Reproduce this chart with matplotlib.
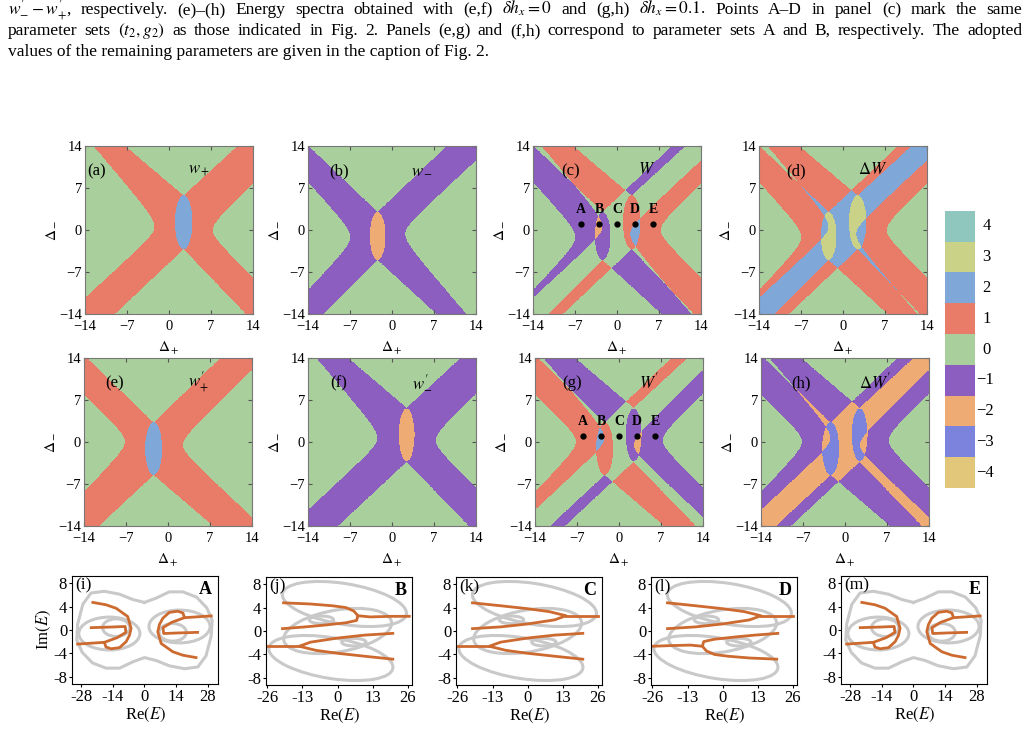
import numpy as np
import matplotlib.pyplot as plt
from matplotlib.colors import ListedColormap, BoundaryNorm
from matplotlib.patches import Ellipse

plt.rcParams['font.family'] = ['Liberation Serif', 'DejaVu Serif']
plt.rcParams['mathtext.fontset'] = 'stix'

# ---------------- data ----------------
# winding-number legend (value -> colour)
levels = [-4, -3, -2, -1, 0, 1, 2, 3, 4]
level_colors = ['#e2c77b', '#7b83dc', '#eeab73', '#8b5ec0', '#a9cf9c',
                '#e97c69', '#7fa8d8', '#c9d286', '#8fc6bd']

# four basic invariants: w+, w-, w'+, w'-  (shapes read off panels a, b, e, f)
# each zero region is a wedge: apex/vertex and the points where its edges leave the frame
band_value = [1, -1, 1, -1]
ellipse_value = [2, -2, 2, -2]
# left zero region (rounded vertex)
left_vertex = [(-2.45, 0.5), (-6.96, -1.2), (-7.2, 0.1), (-2.45, 0.6)]
left_upper_exit = [(-12.6, 14), (-14, 8.0), (-14, 7.9), (-12.6, 14)]
left_lower_exit = [(-14, -11.3), (-14, -10.0), (-14, -8.3), (-14, -11.3)]
# right zero region (rounded vertex)
right_vertex = [(7.3, 0.0), (2.2, -0.6), (2.5, -0.5), (7.3, 0.3)]
right_upper_exit = [(14, 7.7), (14, 11.6), (14, 12.0), (14, 8.0)]
right_lower_exit = [(14, -7.9), (12.4, -14), (14, -12.5), (14, -7.6)]
# top and bottom zero wedges (sharp apex)
top_apex = [(2.45, 5.75), (-2.4, 3.0), (-2.4, 3.25), (2.45, 5.7)]
top_exit_x = [(-7.3, 11.4), (-13.9, 9.1), (-13.5, 8.7), (-7.3, 11.4)]
bottom_apex = [(2.45, -3.2), (-2.4, -5.0), (-2.4, -5.5), (2.45, -3.3)]
bottom_exit_x = [(-9.0, 12.8), (-11.4, 7.4), (-11.5, 7.5), (-9.0, 12.8)]
# central ellipse
ellipse_center = [(2.45, 1.3), (-2.4, -1.0), (-2.4, -1.1), (2.45, 1.2)]
ellipse_semi = [(1.45, 4.5), (1.3, 4.0), (1.4, 4.4), (1.3, 4.4)]
rounding = 1.5

panel_letters = ['(a)', '(b)', '(c)', '(d)', '(e)', '(f)', '(g)', '(h)']
panel_titles = [r'$w_+$', r'$w_-$', r'$W$', r'$\mathit{\Delta} W$',
                r'$w^{\prime}_{+}$', r'$w^{\prime}_{-}$', r'$W^{\prime}$',
                r'$\mathit{\Delta} W^{\prime}$']
letter_x = [-12, -8.9, -7.8, -7.9, -8.9, -8.9, -7.8, -7.3]
phase_ticks = [-14, -7, 0, 7, 14]

# parameter points A-E marked in (c) and (g)
point_names = ['A', 'B', 'C', 'D', 'E']
point_dplus = [-6, -3, 0, 3, 6]
point_dminus = [1, 1, 1, 1, 1]

# ---------------- spectra (Re E, Im E) traced from panels i-m ----------------
# parameter sets A and E give the same spectrum
AE_gray_outer = [(0, 4.7), (-5.2, 5.2), (-11, 6.1), (-17.7, 6.6), (-23.6, 6.3),
                 (-27.2, 4.4), (-29.5, 1.0), (-29.9, -1.7), (-27.5, -3.8),
                 (-23, -5.6), (-17, -6.5), (-11, -6.5), (-5, -5.4), (0, -4.7),
                 (5.2, -5.2), (11, -6.1), (17.7, -6.6), (23.6, -6.3),
                 (27.2, -4.4), (29.5, -1.0), (29.9, 1.7), (27.5, 3.8),
                 (23, 5.6), (17, 6.5), (11, 6.5), (5, 5.4), (0, 4.7)]
AE_gray_loop_x = [-15.5, -12.5, 15.5, 12.5]
AE_gray_loop_y = [-0.6, 0.4, 0.6, -0.4]
AE_gray_loop_w = [27, 12, 27, 12]
AE_gray_loop_h = [5.6, 3.0, 5.6, 3.0]
AE_orange = [
    [(-29.5, -2.4), (-17.7, -2.1), (-17, -2.9), (-14.7, -3.2), (-11, -3.0),
     (-8.1, -2.0), (-6.6, -0.9), (-5.9, 0.3), (-7.4, 2.3), (-12.5, 3.7),
     (-17, 4.3), (-22.8, 4.7)],
    [(-23.5, 0.4), (-15, 0.5), (-8.5, 0.6), (-8.2, -0.4), (-12, -1.3),
     (-17.7, -2.1)],
    [(29.5, 2.4), (17.7, 2.1), (17, 2.9), (14.7, 3.2), (11, 3.0),
     (8.1, 2.0), (6.6, 0.9), (5.9, -0.3), (7.4, -2.3), (12.5, -3.7),
     (17, -4.3), (22.8, -4.7)],
    [(23.5, -0.4), (15, -0.5), (8.5, -0.6), (8.2, 0.4), (12, 1.3),
     (17.7, 2.1)],
]

# parameter sets B, C, D share the three-loop gray spectrum
BCD_gray_loop_x = [2.5, 0.0, -2.5, -6.0, 6.0]
BCD_gray_loop_y = [4.6, 0.0, -4.6, 1.9, -1.9]
BCD_gray_loop_w = [46, 40, 46, 9, 9]
BCD_gray_loop_h = [7.0, 7.2, 7.0, 1.3, 1.3]
BCD_gray_loop_angle = [-4, 4, -4, 0, 0]
C_orange = [
    [(-20.4, 4.8), (-10, 4.3), (0, 3.8), (8, 3.3), (14.2, 2.6), (10, 1.9),
     (0, 1.2), (-10, 0.7), (-20.4, 0.4)],
    [(14.2, 2.6), (20, 2.6), (26, 2.6)],
    [(20.4, -4.8), (10, -4.3), (0, -3.8), (-8, -3.3), (-14.2, -2.6), (-10, -1.9),
     (0, -1.2), (10, -0.7), (20.4, -0.4)],
    [(-14.2, -2.6), (-20, -2.6), (-26, -2.6)],
]
B_orange = [
    [(-20, 4.8), (-10, 4.6), (-2, 4.3), (3, 4.0), (6, 3.4), (7.5, 2.6), (7, 1.8),
     (3, 1.4), (-5, 1.0), (-12, 0.7), (-20.4, 0.4)],
    [(7.5, 2.6), (12, 2.4), (20, 2.5), (26.5, 2.5)],
    [(20.4, -4.8), (10, -4.3), (0, -3.8), (-8, -3.3), (-14.2, -2.6), (-10, -1.9),
     (0, -1.2), (10, -0.7), (20.4, -0.4)],
    [(-14.2, -2.6), (-20, -2.6), (-26, -2.6)],
]
D_orange = [
    [(-20.4, 4.8), (-10, 4.3), (0, 3.8), (8, 3.3), (14.2, 2.6), (10, 1.9),
     (0, 1.2), (-10, 0.7), (-20.4, 0.4)],
    [(14.2, 2.6), (20, 2.6), (26, 2.6)],
    [(20, -4.8), (10, -4.6), (2, -4.3), (-3, -4.0), (-6, -3.4), (-7.5, -2.6), (-7, -1.8),
     (-3, -1.4), (5, -1.0), (12, -0.7), (20.4, -0.4)],
    [(-7.5, -2.6), (-12, -2.4), (-20, -2.5), (-26, -2.6)],
]

spec_letters = ['(i)', '(j)', '(k)', '(l)', '(m)']
spec_points = ['A', 'B', 'C', 'D', 'E']
spec_xticks = [[-28, -14, 0, 14, 28], [-26, -13, 0, 13, 26], [-26, -13, 0, 13, 26],
               [-26, -13, 0, 13, 26], [-28, -14, 0, 14, 28]]
spec_yticks = [8, 4, 0, -4, -8]

# ---------------- figure ----------------
W_PX, H_PX = 1029, 732
fig = plt.figure(figsize=(W_PX / 100, H_PX / 100), dpi=100)


def px_axes(x, y, w, h):
    return fig.add_axes([x / W_PX, 1 - (y + h) / H_PX, w / W_PX, h / H_PX])


# caption text, lines 1-2 justified
renderer = fig.canvas.get_renderer()
line1 = [r'$w^{\prime}_{-}-w^{\prime}_{+}$,', 'respectively.', '(e)–(h)', 'Energy',
         'spectra', 'obtained', 'with', '(e,f)', r'$\delta h_x=0$', 'and', '(g,h)',
         r'$\delta h_x=0.1$.', 'Points', 'A–D', 'in', 'panel', '(c)', 'mark', 'the', 'same']
line2 = ['parameter', 'sets', r'$(t_2,g_2)$', 'as', 'those', 'indicated', 'in', 'Fig.', '2.',
         'Panels', '(e,g)', 'and', '(f,h)', 'correspond', 'to', 'parameter', 'sets', 'A',
         'and', 'B,', 'respectively.', 'The', 'adopted']


def justify(words, y, x0=8, x1=1022):
    texts = [fig.text(0, 1 - y / H_PX, w, fontsize=12.5, va='baseline') for w in words]
    widths = [t.get_window_extent(renderer).width for t in texts]
    gap = (x1 - x0 - sum(widths)) / (len(words) - 1)
    x = x0
    for t, wd in zip(texts, widths):
        t.set_x(x / W_PX)
        x += wd + gap


justify(line1, 14)
justify(line2, 35)
fig.text(8 / W_PX, 1 - 56 / H_PX,
         'values of the remaining parameters are given in the caption of Fig. 2.',
         fontsize=12.5, va='baseline')

# phase diagrams
cmap = ListedColormap(level_colors)
norm = BoundaryNorm(np.arange(-4.5, 5.5, 1), cmap.N)
grid = np.linspace(-14, 14, 801)
DP, DM = np.meshgrid(grid, grid)


def side_region(vertex, upper_exit, lower_exit, sign):
    # zero region left (sign=-1) or right (sign=+1) of a rounded wedge boundary
    xv, yv = vertex
    r = rounding
    dy = DM - yv
    dist = np.zeros_like(DP)
    for exit_pt, mask in ((upper_exit, dy >= 0), (lower_exit, dy < 0)):
        xc, yc = exit_pt
        span = abs(xc - xv) + r
        slope = abs(yc - yv) / np.sqrt(span ** 2 - r ** 2)
        dist = np.where(mask, np.sqrt(r ** 2 + (dy / slope) ** 2), dist)
    if sign < 0:
        return DP < xv + r - dist
    return DP > xv - r + dist


def apex_region(apex, exits, edge, sign):
    xa, ya = apex
    sl = (edge - ya) / (xa - exits[0])
    sr = (edge - ya) / (exits[1] - xa)
    bound = np.where(DP < xa, ya + sl * (xa - DP), ya + sr * (DP - xa))
    if sign > 0:
        return DM > bound
    return DM < bound


def invariant(k):
    zero = (side_region(left_vertex[k], left_upper_exit[k], left_lower_exit[k], -1)
            | side_region(right_vertex[k], right_upper_exit[k], right_lower_exit[k], 1)
            | apex_region(top_apex[k], top_exit_x[k], 14, 1)
            | apex_region(bottom_apex[k], bottom_exit_x[k], -14, -1))
    ex, ey = ellipse_center[k]
    ea, eb = ellipse_semi[k]
    ell = ((DP - ex) / ea) ** 2 + ((DM - ey) / eb) ** 2 < 1
    w = np.where(zero, 0, band_value[k])
    return np.where(ell, ellipse_value[k], w)


wp, wm, wpp, wmp = [invariant(k) for k in range(4)]
fields = [wp, wm, wp + wm, wp - wm, wpp, wmp, wpp + wmp, wmp - wpp]

phase_boxes = [(85, 146), (308, 146), (533, 146), (759, 146),
               (84, 358), (308, 358), (535, 358), (761, 358)]
for i, (field, (bx, by)) in enumerate(zip(fields, phase_boxes)):
    ax = px_axes(bx, by, 168, 168)
    ax.imshow(field, origin='lower', extent=(-14, 14, -14, 14), cmap=cmap, norm=norm,
              interpolation='nearest', aspect='auto')
    ax.set_xticks(phase_ticks)
    ax.set_yticks(phase_ticks)
    ax.tick_params(direction='in', top=True, right=True, length=3, color='#555555',
                   labelsize=10.5)
    ax.tick_params(axis='x', pad=4)
    ax.tick_params(axis='y', pad=2)
    for s in ax.spines.values():
        s.set_color('#777777')
    ax.set_xlabel(r'$\Delta_+$', fontsize=11, labelpad=5)
    ax.set_ylabel(r'$\Delta_-$', fontsize=11, labelpad=2)
    ax.text(letter_x[i], 9.8, panel_letters[i], fontsize=12, ha='center', va='center')
    ax.text(5, 10, panel_titles[i], fontsize=12, ha='center', va='center')
    if i in (2, 6):
        ax.plot(point_dplus, point_dminus, 'o', color='black', ms=3.5)
        for nm, px_, py_ in zip(point_names, point_dplus, point_dminus):
            ax.text(px_, py_ + 1.3, nm, fontsize=10, fontweight='bold',
                    ha='center', va='bottom')

# legend bar
cax = px_axes(945, 211, 30, 277)
cax.imshow(np.array(levels[::-1]).reshape(-1, 1), cmap=cmap, norm=norm, aspect='auto',
           extent=(0, 1, 0, len(levels)))
cax.axis('off')
for j, lv in enumerate(levels):
    label = str(lv).replace('-', '\u2212')
    cax.text(1.25 if lv >= 0 else 1.05, j + 0.5, label, fontsize=12,
             ha='left', va='center', clip_on=False)

# spectra
spec_boxes = [(72, 576), (266, 577), (456, 577), (651, 577), (841, 576)]
spec_xlims = [(-32, 32.5), (-26.5, 27.5), (-26.5, 27.5), (-26.5, 27.5), (-32, 32.5)]
spec_orange = [AE_orange, B_orange, C_orange, D_orange, AE_orange]
gray = '#c9c9c9'
orange = '#cc6a30'
for i, (bx, by) in enumerate(spec_boxes):
    ax = px_axes(bx, by, 146, 108)
    if i in (0, 4):
        xs, ys = zip(*AE_gray_outer)
        ax.plot(xs, ys, color=gray, lw=2.2)
        for cx, cy, ww, hh in zip(AE_gray_loop_x, AE_gray_loop_y, AE_gray_loop_w, AE_gray_loop_h):
            ax.add_patch(Ellipse((cx, cy), ww, hh, fill=False, ec=gray, lw=2.2))
    else:
        for cx, cy, ww, hh, an in zip(BCD_gray_loop_x, BCD_gray_loop_y, BCD_gray_loop_w,
                                      BCD_gray_loop_h, BCD_gray_loop_angle):
            ax.add_patch(Ellipse((cx, cy), ww, hh, angle=an, fill=False, ec=gray, lw=2.2))
    for c in spec_orange[i]:
        xs, ys = zip(*c)
        ax.plot(xs, ys, color=orange, lw=2)
    ax.set_xlim(*spec_xlims[i])
    ax.set_ylim(-9.2, 9.2)
    ax.set_xticks(spec_xticks[i])
    ax.set_xticklabels([str(v) for v in spec_xticks[i]])
    ax.set_yticks(spec_yticks)
    ax.set_yticklabels([str(v) for v in spec_yticks])
    ax.tick_params(direction='out', length=2.5, labelsize=12, pad=1)
    ax.set_xlabel(r'Re$(E)$', fontsize=12, labelpad=1)
    if i == 0:
        ax.set_ylabel(r'Im$(E)$', fontsize=12, labelpad=0)
    ax.text(0.02, 0.99, spec_letters[i], transform=ax.transAxes, fontsize=12.5,
            ha='left', va='top')
    ax.text(0.96, 0.95, spec_points[i], transform=ax.transAxes, fontsize=13,
            fontweight='bold', ha='right', va='top')

fig.savefig('out.png', dpi=100)
